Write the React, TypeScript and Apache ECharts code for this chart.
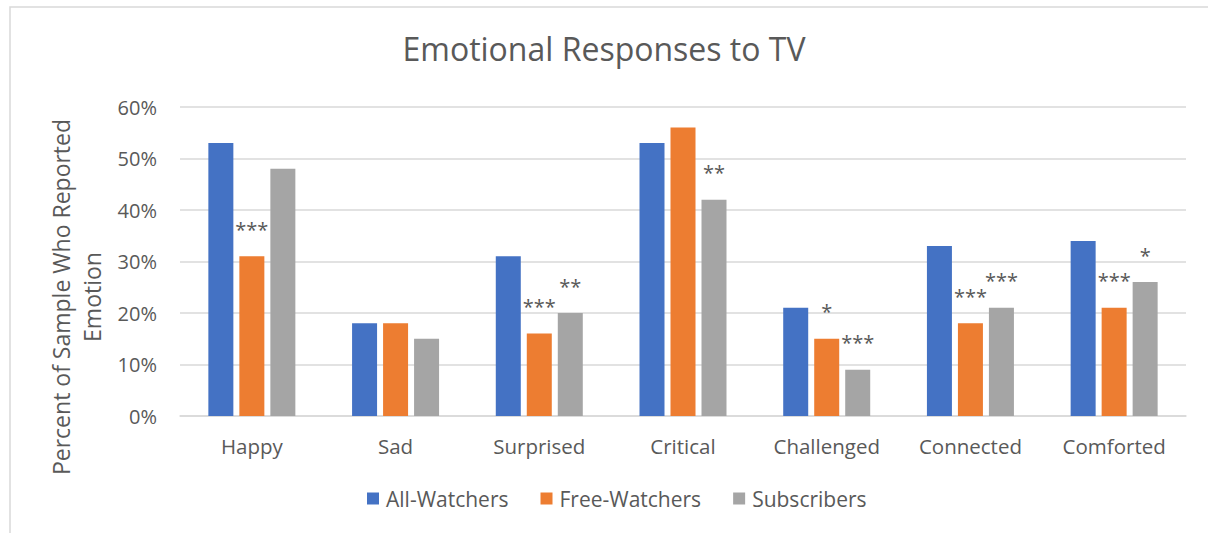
import React, { useEffect, useRef } from "react";
import * as echarts from "echarts";

const categories = ["Happy", "Sad", "Surprised", "Critical", "Challenged", "Connected", "Comforted"];
const seriesNames = ["All-Watchers", "Free-Watchers", "Subscribers"];
const allWatchers = [53, 18, 31, 53, 21, 33, 34];
const freeWatchers = [31, 18, 16, 56, 15, 18, 21];
const subscribers = [48, 15, 20, 42, 9, 21, 26];
const allSig = ["", "", "", "", "", "", ""];
const freeSig = ["***", "", "***", "", "*", "***", "***"];
const subSig = ["", "", "**", "**", "***", "***", "*"];
const yTicks = [0, 10, 20, 30, 40, 50, 60];

const colors = ["#4472C4", "#ED7D31", "#A5A5A5"];
const FONT = "Open Sans";
const TEXT = "#595959";

export default function App() {
  const ref = useRef<HTMLDivElement>(null);
  useEffect(() => {
    if (!ref.current) return;
    const chart = echarts.init(ref.current, null, { renderer: "svg" });
    const values = [allWatchers, freeWatchers, subscribers];
    const sigs = [allSig, freeSig, subSig];
    chart.setOption({
      animation: false,
      backgroundColor: "#fff",
      title: {
        text: "Emotional Responses to TV",
        left: "center",
        top: 27,
        textStyle: { fontFamily: FONT, fontSize: 32, fontWeight: "normal", color: TEXT },
      },
      legend: {
        data: seriesNames,
        bottom: 19,
        left: 362,
        itemWidth: 12,
        itemHeight: 12,
        itemGap: 32,
        icon: "rect",
        textStyle: { fontFamily: FONT, fontSize: 21, color: TEXT, padding: [0, 0, 0, 2] },
      },
      grid: { left: 180, right: 22, top: 107, bottom: 117 },
      xAxis: {
        type: "category",
        data: categories,
        axisLine: { lineStyle: { color: "#D9D9D9", width: 1.5 } },
        axisTick: { show: false },
        axisLabel: { fontFamily: FONT, fontSize: 20.5, color: TEXT, margin: 19 },
      },
      yAxis: {
        type: "value",
        min: yTicks[0],
        max: yTicks[yTicks.length - 1],
        interval: 10,
        axisLine: { show: false },
        axisTick: { show: false },
        splitLine: { lineStyle: { color: "#D9D9D9", width: 1.5 } },
        axisLabel: { fontFamily: FONT, fontSize: 20, color: TEXT, margin: 23, formatter: "{value}%" },
      },
      series: seriesNames.map((name, i) => ({
        name,
        type: "bar",
        data: values[i],
        barWidth: 25,
        barGap: "24%",
        itemStyle: { color: colors[i] },
        label: {
          show: true,
          position: "top",
          distance: 17,
          fontFamily: FONT,
          fontSize: 20,
          color: TEXT,
          formatter: (p: any) => sigs[i][p.dataIndex],
        },
      })),
      graphic: [
        {
          type: "rect",
          shape: { x: 10, y: 7, width: 1300, height: 600 },
          style: { fill: "none", stroke: "#D9D9D9", lineWidth: 1.5 },
          silent: true,
        },
        {
          type: "text",
          x: 76,
          y: 297,
          rotation: Math.PI / 2,
          style: {
            text: "Percent of Sample Who Reported\nEmotion",
            fontFamily: FONT,
            fontSize: 23,
            lineHeight: 31,
            fill: TEXT,
            align: "center",
            verticalAlign: "middle",
          },
        },
      ],
    });
    return () => chart.dispose();
  }, []);
  return (
    <div
      ref={ref}
      style={{ position: "absolute", left: 0, top: 0, width: 1208, height: 533 }}
    />
  );
}
